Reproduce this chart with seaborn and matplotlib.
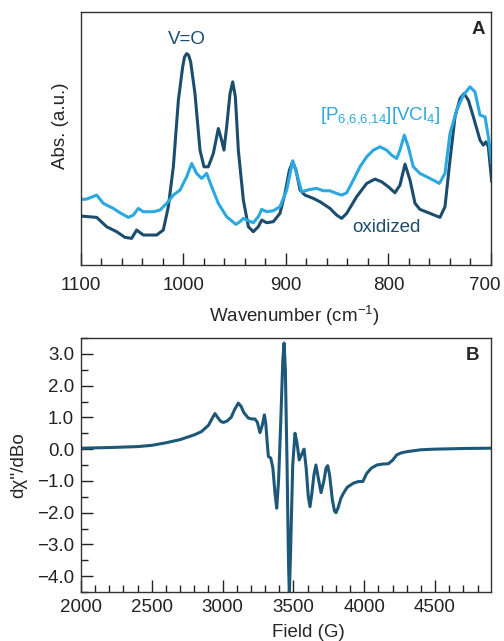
import pandas as pd
import seaborn as sns
import matplotlib.pyplot as plt
from matplotlib.ticker import MultipleLocator, FuncFormatter
from matplotlib.transforms import ScaledTranslation

# IR spectra (panel A), arbitrary absorbance units
wn_oxidized = [1100, 1084.7, 1075.0, 1065.2, 1057.1, 1050.6, 1045.7, 1039.2, 1026.2, 1019.7,
               1014.8, 1009.9, 1005.0, 1000.8, 999.0, 996.9, 995.0, 993.0, 988.8, 983.9, 980.0, 975.8,
               970.9, 966.0, 962.8, 960.5, 957.9, 954.6, 952.0, 949.4, 946.5, 941.6,
               936.7, 931.9, 927.0, 923.7, 918.9, 912.4, 905.9, 901.0, 896.7, 893.5,
               890.2, 886.3, 881.5, 873.3, 866.8, 857.1, 850.6, 845.7, 840.8, 831.1,
               821.3, 813.2, 806.7, 800.2, 793.7, 788.8, 783.9, 779.0, 774.1, 769.3,
               759.5, 749.8, 744.9, 740.0, 735.1, 730.2, 726.3, 722.1, 717.2, 710.7,
               707.5, 704.9, 702.6, 699.3]
abs_oxidized = [1.47, 1.43, 1.15, 1.00, 0.83, 0.80, 1.05, 0.90, 0.90, 1.05,
                1.75, 2.95, 4.95, 5.95, 6.25, 6.35, 6.30, 6.10, 5.15, 3.45, 2.95, 2.95,
                3.35, 4.10, 3.75, 3.45, 4.15, 5.15, 5.50, 5.05, 3.45, 1.95,
                1.15, 1.00, 1.15, 1.35, 1.27, 1.30, 1.55, 2.15, 2.85, 3.10,
                2.85, 2.25, 2.10, 2.00, 1.90, 1.70, 1.50, 1.40, 1.55, 2.05,
                2.45, 2.58, 2.50, 2.35, 2.17, 2.40, 3.03, 2.55, 1.85, 1.67,
                1.55, 1.43, 1.75, 3.15, 4.45, 5.00, 5.15, 4.95, 4.45, 3.75,
                3.60, 3.70, 3.55, 2.50]

wn_vcl4 = [1100, 1094.5, 1084.7, 1078.2, 1068.5, 1062.0, 1053.8, 1048.9, 1044.1, 1039.2,
           1029.4, 1022.9, 1016.4, 1009.9, 1003.4, 996.9, 992.0, 987.2, 982.3, 977.4,
           972.5, 966.0, 957.9, 948.8, 944.9, 941.6, 936.7, 931.9, 927.0, 923.7,
           918.9, 912.4, 905.9, 899.3, 893.5, 889.6, 884.7, 876.6, 870.1, 863.6,
           857.1, 850.6, 845.7, 840.8, 834.3, 827.8, 821.3, 814.8, 808.3, 801.8,
           796.9, 792.0, 788.8, 784.6, 780.7, 775.8, 769.3, 759.5, 750.4, 744.9,
           740.0, 733.5, 727.0, 720.5, 715.6, 710.7, 705.8, 702.6, 699.3]
abs_vcl4 = [1.97, 1.98, 2.10, 1.85, 1.70, 1.57, 1.43, 1.50, 1.70, 1.60,
            1.60, 1.65, 1.85, 2.10, 2.25, 2.65, 3.05, 2.75, 2.60, 2.75,
            2.35, 1.85, 1.45, 1.22, 1.30, 1.40, 1.33, 1.27, 1.45, 1.67,
            1.60, 1.63, 1.75, 2.25, 3.13, 2.75, 2.20, 2.27, 2.30, 2.23,
            2.23, 2.15, 2.10, 2.17, 2.55, 2.95, 3.25, 3.45, 3.55, 3.45,
            3.30, 3.20, 3.45, 3.90, 3.55, 2.95, 2.75, 2.60, 2.45, 2.75,
            3.95, 4.65, 5.10, 5.35, 5.20, 4.50, 4.45, 3.85, 3.05]

# EPR derivative spectrum (panel B)
field = [2000, 2200, 2400, 2500, 2600, 2700, 2800, 2850, 2900, 2930,
         2946, 2965, 2985, 3005, 3030, 3060, 3085, 3111, 3130, 3150,
         3181, 3205, 3228, 3245, 3264, 3280, 3295, 3305, 3315, 3323,
         3340, 3355, 3370, 3382, 3395, 3410, 3425, 3434, 3443, 3455,
         3465, 3471, 3480, 3495, 3511, 3525, 3541, 3560, 3575, 3590,
         3605, 3617, 3630, 3645, 3659, 3675, 3695, 3715, 3730, 3742,
         3755, 3775, 3790, 3801, 3815, 3835, 3853, 3880, 3924, 3960,
         3990, 4018, 4050, 4089, 4130, 4170, 4200, 4230, 4260, 4300,
         4400, 4500, 4700, 4895]
dchi = [0.03, 0.05, 0.08, 0.12, 0.20, 0.30, 0.45, 0.55, 0.75, 1.00,
        1.12, 1.00, 0.88, 0.84, 0.88, 1.00, 1.25, 1.45, 1.35, 1.15,
        0.98, 0.95, 0.95, 0.85, 0.52, 0.75, 1.08, 0.80, 0.20, -0.23,
        -0.28, -0.60, -1.40, -1.86, -1.00, 0.80, 2.80, 3.34, 2.50, -0.50,
        -3.50, -4.60, -3.20, -0.50, 0.50, 0.20, -0.34, -0.15, 0.00, -0.60,
        -1.50, -1.81, -1.40, -0.80, -0.50, -0.90, -1.37, -1.00, -0.60, -0.52,
        -0.80, -1.60, -1.95, -2.00, -1.85, -1.55, -1.39, -1.20, -1.07, -1.02,
        -1.02, -0.76, -0.60, -0.50, -0.47, -0.46, -0.35, -0.18, -0.12, -0.08,
        -0.02, 0.00, 0.02, 0.03]

ir_ticks = [1100, 1000, 900, 800, 700]

dark = "#1b4d6e"
light = "#2aa8df"
epr_col = "#1d5878"

sns.set_style("ticks")
plt.rcParams['font.family'] = ['Liberation Sans', 'DejaVu Sans']
plt.rcParams['mathtext.default'] = 'regular'
fs = 13.5
line_kw = dict(lw=2.2, sort=False, solid_joinstyle='round', solid_capstyle='round')

fig = plt.figure(figsize=(5.04, 6.41), dpi=100)
ax1 = fig.add_axes([0.1607, 0.5866, 0.8135, 0.3947])
ax2 = fig.add_axes([0.1607, 0.0764, 0.8135, 0.3963])

# panel A
sns.lineplot(x=wn_oxidized, y=abs_oxidized, ax=ax1, color=dark, **line_kw)
sns.lineplot(x=wn_vcl4, y=abs_vcl4, ax=ax1, color=light, **line_kw)
ax1.set_xlim(1100, 700)
ax1.set_ylim(0, 7.6)
ax1.set_xticks(ir_ticks)
ax1.set_xticklabels([str(t) for t in ir_ticks])
ax1.xaxis.set_minor_locator(MultipleLocator(20))
ax1.set_yticks([])
ax1.tick_params(axis='x', which='major', direction='in', length=8.5, width=1,
                labelsize=fs, colors='#222222', pad=8.5)
ax1.tick_params(axis='x', which='minor', direction='in', length=5, width=1, colors='#222222')
# last label sits at the figure edge, nudge it left a little like the original
last = ax1.get_xticklabels()[-1]
last.set_transform(last.get_transform() + ScaledTranslation(-6 / 100, 0, fig.dpi_scale_trans))
ax1.set_xlabel("Wavenumber (cm$^{-1}$)", fontsize=fs)
ax1.xaxis.set_label_coords(0.52, -0.155)
ax1.set_ylabel("Abs. (a.u.)", fontsize=fs)
ax1.yaxis.set_label_coords(-0.03, 0.55)
ax1.text(997, 6.78, "V=O", color=dark, fontsize=fs, ha='center', va='center')
ax1.text(808, 4.5, r"[P$_{6{,}6{,}6{,}14}$][VCl$_4$]", color=light, fontsize=fs,
         ha='center', va='center')
ax1.text(802, 1.12, "oxidized", color=dark, fontsize=fs, ha='center', va='center')
ax1.text(0.968, 0.93, "A", transform=ax1.transAxes, fontsize=fs, fontweight='bold',
         ha='center', va='center')

# panel B
sns.lineplot(x=field, y=dchi, ax=ax2, color=epr_col, **line_kw)
ax2.set_xlim(2000, 4895)
ax2.set_ylim(-4.5, 3.5)
ax2.xaxis.set_major_locator(MultipleLocator(500))
ax2.xaxis.set_minor_locator(MultipleLocator(100))
ax2.yaxis.set_major_locator(MultipleLocator(1.0))
ax2.yaxis.set_minor_locator(MultipleLocator(0.5))
ax2.yaxis.set_major_formatter(FuncFormatter(lambda v, p: f"{v:.1f}".replace("-", "\u2212")))
ax2.tick_params(which='major', direction='in', length=8.5, width=1, labelsize=fs,
                colors='#222222', pad=5)
ax2.tick_params(which='minor', direction='in', length=5, width=1, colors='#222222')
ax2.set_xlabel("Field (G)", fontsize=fs)
ax2.xaxis.set_label_coords(0.555, -0.125)
ax2.set_ylabel("dχ''/dBo", fontsize=fs)
ax2.yaxis.set_label_coords(-0.13, 0.5)
ax2.text(0.956, 0.93, "B", transform=ax2.transAxes, fontsize=fs, fontweight='bold',
         ha='center', va='center')

for ax in (ax1, ax2):
    for s in ax.spines.values():
        s.set_color('#333333')
        s.set_linewidth(1)
        s.set_visible(True)
    ax.set_facecolor('white')

fig.savefig("out.png", dpi=100, facecolor='white')
